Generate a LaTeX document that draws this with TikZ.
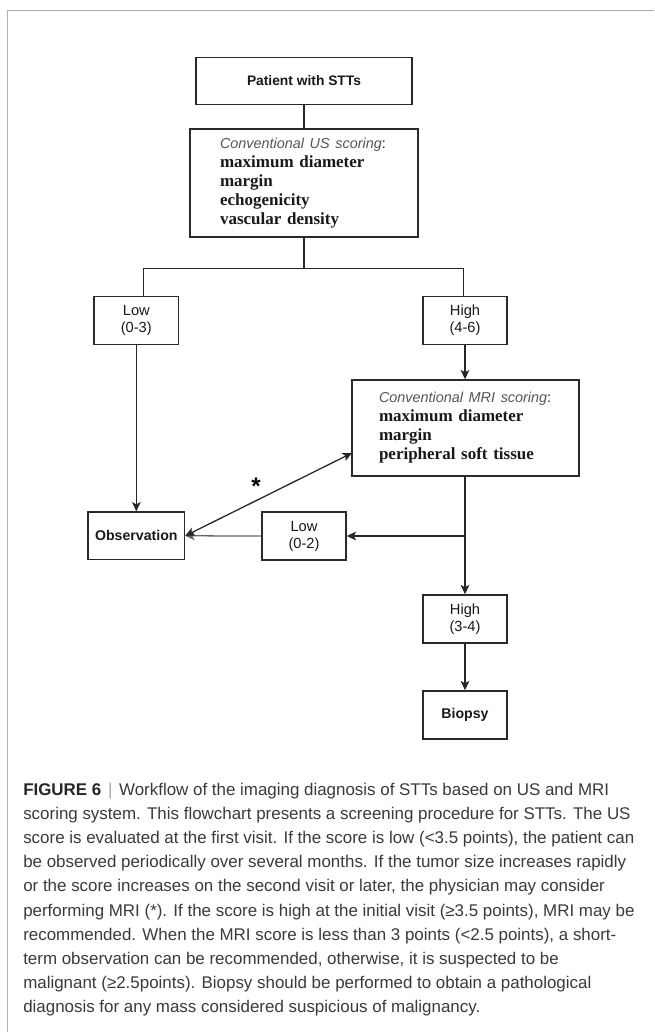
\documentclass[tikz,border=0pt]{standalone}
\usepackage{fontspec}
\setmainfont{Liberation Sans}
\newfontfamily\tnr{Liberation Serif}
\usetikzlibrary{arrows.meta}
\definecolor{framegray}{HTML}{AFAFAF}
\definecolor{boxline}{HTML}{2A2A2A}
\definecolor{captext}{HTML}{3A3A3A}
\definecolor{itgray}{HTML}{555555}
\begin{document}
\begin{tikzpicture}[x=0.75pt,y=-0.75pt,
  box/.style={draw=boxline,line width=1.1pt,rectangle,inner sep=0pt,align=center,text=black!90},
  lbl/.style={font=\fontsize{11}{12.75}\selectfont},
  blbl/.style={font=\bfseries\fontsize{10.6}{12.75}\selectfont},
  scorebox/.style={box,align=left,font=\tnr\bfseries\fontsize{12.75}{14.25}\selectfont},
  conn/.style={draw=black!85,line width=0.95pt},
  arr/.style={conn,-{Stealth[length=7pt,width=6.5pt,inset=1.8pt]}},
  darr/.style={conn,{Stealth[length=7pt,width=6.5pt,inset=1.8pt]}-{Stealth[length=7pt,width=6.5pt,inset=1.8pt]}},
  capline/.style={anchor=base west,inner sep=0pt,text=captext,font=\fontsize{12.7}{18}\selectfont}
]
\fill[white] (0,0) rectangle (654,1032);
\useasboundingbox (0,0) rectangle (654,1032);
\coordinate (ftl) at (7.5,10.7);
\coordinate (ftr) at (654,10.7);
\coordinate (fbl) at (7.5,1032);
\draw[framegray,line width=1pt] (ftr) -- (ftl) -- (fbl);

% nodes
\node[box,minimum width=162pt,minimum height=35.25pt,font=\bfseries\fontsize{10.35}{12}\selectfont] (pat) at (304,80.8) {Patient with STTs};
\node[scorebox,text width=126pt,inner xsep=22.5pt,minimum height=81pt] (us) at (304,183)
  {\mbox{\rmfamily\mdseries\fontsize{10.8}{13}\selectfont{\itshape\color{itgray}Conventional US scoring}:}\\maximum diameter\\margin\\echogenicity\\vascular density};
\node[box,lbl,minimum width=63.4pt,minimum height=36pt] (low1) at (136.3,320.5) {Low\\(0-3)};
\node[box,lbl,minimum width=63pt,minimum height=36pt] (high1) at (465,320.5) {High\\(4-6)};
\node[scorebox,text width=129.75pt,inner xsep=20.25pt,minimum height=72pt] (mri) at (465.5,428)
  {\mbox{\rmfamily\mdseries\fontsize{10.8}{13}\selectfont{\itshape\color{itgray}Conventional MRI scoring}:}\\maximum diameter\\margin\\peripheral soft tissue};
\node[box,blbl,minimum width=72.4pt,minimum height=35.6pt] (obs) at (136.3,535.8) {Observation};
\node[box,lbl,minimum width=63pt,minimum height=36pt] (low2) at (304,536) {Low\\(0-2)};
\node[box,lbl,minimum width=63pt,minimum height=36pt] (high2) at (465,619) {High\\(3-4)};
\node[box,blbl,minimum width=63pt,minimum height=36pt] (bio) at (465,715) {Biopsy};

% connectors
\coordinate (bj) at (304,268.3);
\coordinate (bl) at (143.3,268.3);
\coordinate (br) at (463.3,268.3);
\draw[conn] (pat) -- (us);
\draw[conn] (us.south) -- (bj);
\draw[conn] (bl |- low1.north) -- (bl) -- (br) -- (br |- high1.north);
\draw[arr] (low1) -- (obs);
\draw[arr] (high1.south) -- (high1.south |- mri.north);
\draw[arr] (high2.north |- mri.south) -- (high2.north);
\coordinate (mj) at (high2.north |- low2.east);
\draw[arr] (mj) -- (low2.east);
\draw[arr,draw=black!60] (low2.west) -- (obs.east);
\coordinate (md) at (352,453);
\draw[darr] (obs.east) -- (md);
\draw[arr] (high2) -- (bio);
\node[font=\bfseries\fontsize{18}{18}\selectfont,inner sep=0pt] (star) at (256,486) {*};

% caption
\node[capline] (c1) at (23,795.0) {{\bfseries\color{black!85}FIGURE 6}\hspace{5pt}{\color{black!35}|}\hspace{5pt}Workflow of the imaging diagnosis of STTs based on US and MRI};
\node[capline] (c2) at (23,819.2) {scoring system. This flowchart presents a screening procedure for STTs. The US};
\node[capline] (c3) at (23,843.4) {score is evaluated at the first visit. If the score is low (<3.5 points), the patient can};
\node[capline] (c4) at (23,867.6) {be observed periodically over several months. If the tumor size increases rapidly};
\node[capline] (c5) at (23,891.8) {or the score increases on the second visit or later, the physician may consider};
\node[capline] (c6) at (23,916.0) {performing MRI (*). If the score is high at the initial visit (≥3.5 points), MRI may be};
\node[capline] (c7) at (23,940.2) {recommended. When the MRI score is less than 3 points (<2.5 points), a short-};
\node[capline] (c8) at (23,964.4) {term observation can be recommended, otherwise, it is suspected to be};
\node[capline] (c9) at (23,988.6) {malignant (≥2.5points). Biopsy should be performed to obtain a pathological};
\node[capline] (c10) at (23,1012.8) {diagnosis for any mass considered suspicious of malignancy.};
\end{tikzpicture}
\end{document}
